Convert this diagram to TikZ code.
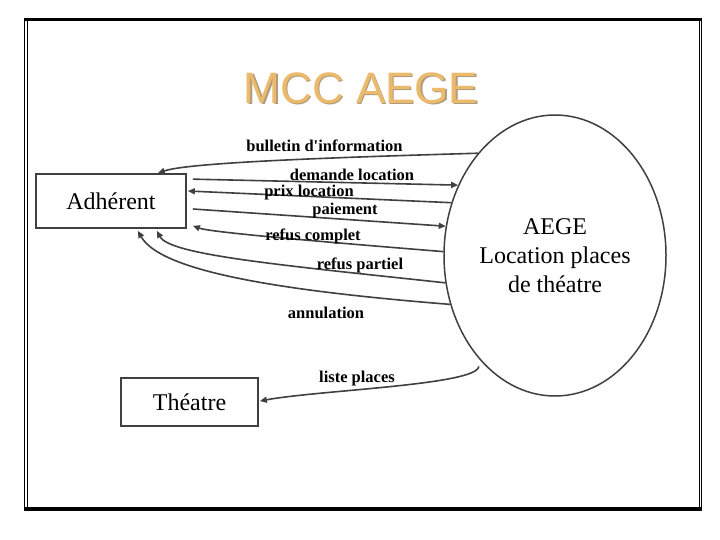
\documentclass[tikz,border=0pt]{standalone}
\usepackage{fontspec}
\setmainfont{Liberation Serif}
\newfontfamily\titlefont{Liberation Sans}
\usetikzlibrary{shapes.geometric,arrows.meta,calc}
\definecolor{trait}{RGB}{64,64,64}
\definecolor{titre}{RGB}{236,186,108}
\definecolor{ombre}{RGB}{175,155,125}
\tikzset{
  entite/.style={rectangle, draw=trait, line width=1.7pt, inner sep=0pt,
                 font=\fontsize{24}{29}\selectfont},
  proc/.style={ellipse, draw=trait, line width=1.5pt, inner sep=0pt, align=center,
               minimum width=222pt, minimum height=281pt, font=\fontsize{24}{29}\selectfont},
  flux/.style={-{Triangle[length=7pt,width=6pt]}, line width=1.6pt, draw=trait},
  lbl/.style={font=\bfseries\fontsize{16.5}{18}\selectfont, inner sep=0pt},
  cadre/.style={line width=0.9pt},
  titrestyle/.style={font=\titlefont\fontsize{44}{50}\selectfont, inner sep=0pt},
}

\begin{document}
\begin{tikzpicture}[x=1pt, y=-1pt]
  \fill[white] (0,0) rectangle (720,540);
  \useasboundingbox (0,0) rectangle (720,540);
  % frame
  \fill (24,18) rectangle (701.5,21.5);
  \fill (24,507) rectangle (701.5,511);
  \draw[cadre] (24.5,18) -- (24.5,511);
  \draw[cadre] (27,21) -- (27,507);
  \draw[cadre] (699,21) -- (699,507);
  \draw[cadre] (701.5,18) -- (701.5,511);
  % title
  \node[titrestyle, text=ombre] (titreombre) at (362.5,89.5) {MCC AEGE};
  \node[titrestyle, text=titre] (titre) at (361,88) {MCC AEGE};
  % entities and process
  \node[entite, minimum width=150pt, minimum height=54pt] (adh) at (111,201) {Adhérent};
  \node[entite, minimum width=137pt, minimum height=48pt] (the) at (189.5,402) {Théatre};
  \node[proc] (aege) at (555,255.5) {AEGE\\Location places\\de théatre};
  % flows
  \draw[flux] (aege.127.7) .. controls (350,157) and (190,162) .. ($(adh.north east)+(-29,0)$);
  \draw[flux] ($(adh.north east)+(6,6)$) -- (aege.144.8);
  \draw[flux] (aege.153.5) -- ($(adh.east)+(1,-10)$);
  \draw[flux] ($(adh.east)+(6,8)$) -- (aege.165.8);
  \draw[flux] (aege.178.2) .. controls (300,240) and (210,232) .. ($(adh.south east)+(6,-3)$);
  \draw[flux] (aege.194.2) .. controls (280,265) and (170,255) .. ($(adh.south east)+(-30,2)$);
  \draw[flux] (aege.205.5) .. controls (270,290) and (160,270) .. ($(adh.south east)+(-49,2)$);
  \draw[flux] ($(aege.238)+(-7,0)$) .. controls (478,385) and (320,390) .. ($(the.east)+(1,-1)$);
  % labels
  \node[lbl] (lbul) at (324.5,146) {bulletin d\textquotesingle information};
  \node[lbl] (ldem) at (352,175) {demande location};
  \node[lbl] (lprix) at (309,193) {prix location};
  \node[lbl] (lpai) at (345,211) {paiement};
  \node[lbl] (lrc) at (313,236) {refus complet};
  \node[lbl] (lrp) at (360,265) {refus partiel};
  \node[lbl] (lann) at (326,313) {annulation};
  \node[lbl] (lliste) at (357,379) {liste places};
\end{tikzpicture}
\end{document}
